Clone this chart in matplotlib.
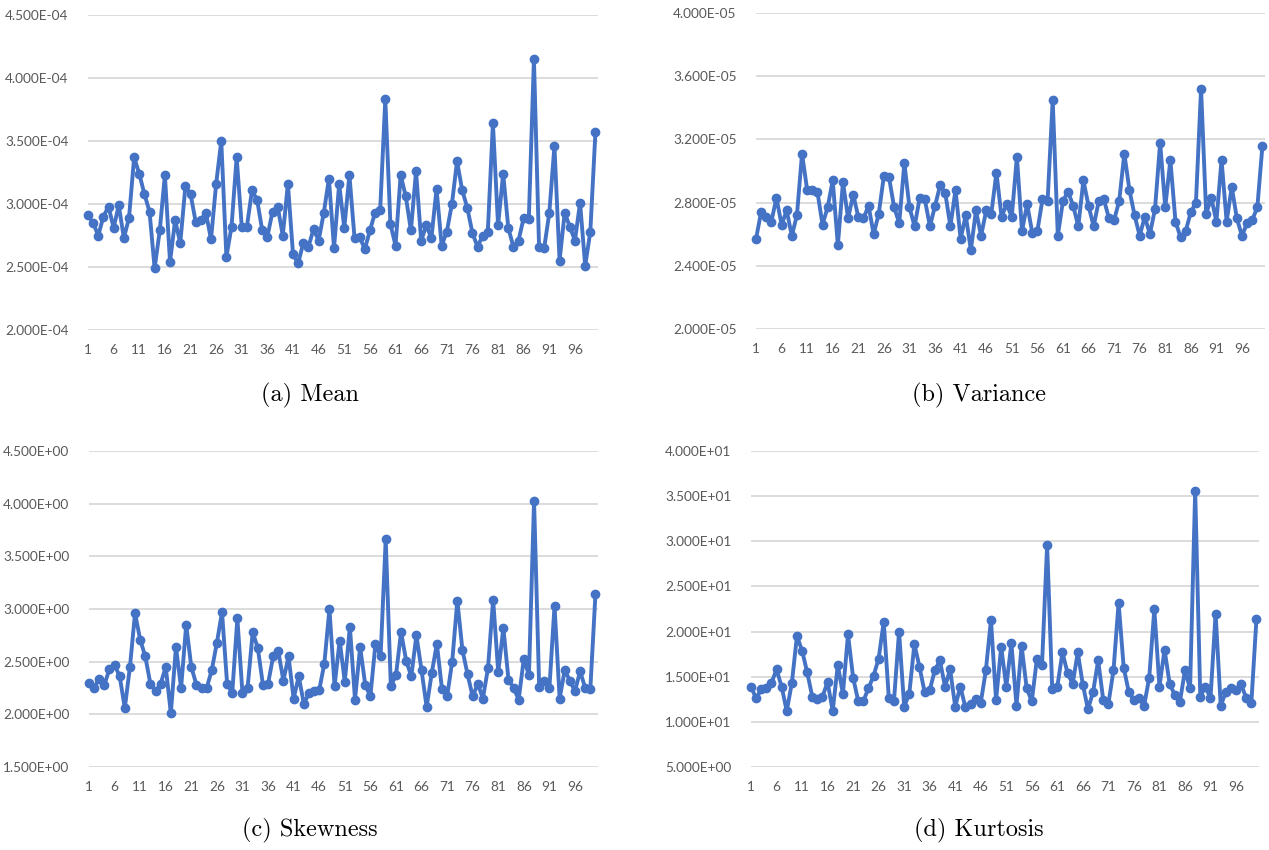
import numpy as np
import matplotlib
matplotlib.use("Agg")
import matplotlib.pyplot as plt
from matplotlib.ticker import FuncFormatter, FixedLocator

mean_vals = [2.91, 2.85, 2.75, 2.90, 2.98, 2.81, 2.99, 2.73, 2.89, 3.37,
             3.24, 3.08, 2.94, 2.49, 2.79, 3.23, 2.54, 2.87, 2.69, 3.14,
             3.08, 2.86, 2.87, 2.93, 2.72, 3.16, 3.50, 2.58, 2.82, 3.37,
             2.82, 2.82, 3.11, 3.03, 2.79, 2.74, 2.94, 2.98, 2.75, 3.16,
             2.60, 2.53, 2.69, 2.66, 2.80, 2.71, 2.93, 3.20, 2.65, 3.16,
             2.81, 3.23, 2.73, 2.74, 2.64, 2.79, 2.93, 2.95, 3.83, 2.84,
             2.67, 3.23, 3.06, 2.79, 3.26, 2.71, 2.83, 2.73, 3.12, 2.67,
             2.78, 3.00, 3.34, 3.11, 2.97, 2.77, 2.66, 2.75, 2.78, 3.64,
             2.83, 3.24, 2.81, 2.66, 2.71, 2.89, 2.88, 4.15, 2.66, 2.65,
             2.93, 3.46, 2.55, 2.93, 2.82, 2.71, 3.01, 2.51, 2.78, 3.57]  # x 1e-4

var_vals = [2.57, 2.74, 2.71, 2.68, 2.83, 2.66, 2.75, 2.59, 2.72, 3.11,
            2.88, 2.88, 2.87, 2.66, 2.77, 2.94, 2.53, 2.93, 2.70, 2.85,
            2.71, 2.70, 2.78, 2.60, 2.73, 2.97, 2.96, 2.77, 2.67, 3.05,
            2.77, 2.65, 2.83, 2.82, 2.65, 2.78, 2.91, 2.86, 2.65, 2.88,
            2.57, 2.72, 2.50, 2.75, 2.59, 2.75, 2.73, 2.99, 2.71, 2.79,
            2.71, 3.09, 2.62, 2.79, 2.61, 2.62, 2.82, 2.81, 3.45, 2.59,
            2.81, 2.87, 2.78, 2.65, 2.94, 2.78, 2.65, 2.81, 2.82, 2.70,
            2.69, 2.81, 3.11, 2.88, 2.72, 2.59, 2.71, 2.60, 2.76, 3.18,
            2.77, 3.07, 2.68, 2.58, 2.62, 2.74, 2.80, 3.52, 2.73, 2.83,
            2.68, 3.07, 2.68, 2.90, 2.70, 2.59, 2.67, 2.69, 2.77, 3.16]  # x 1e-5

skew_vals = [2.30, 2.25, 2.34, 2.28, 2.43, 2.47, 2.36, 2.06, 2.45, 2.96,
             2.71, 2.55, 2.29, 2.22, 2.29, 2.45, 2.01, 2.64, 2.25, 2.85,
             2.45, 2.28, 2.25, 2.25, 2.42, 2.68, 2.97, 2.29, 2.20, 2.91,
             2.20, 2.25, 2.78, 2.63, 2.28, 2.29, 2.55, 2.60, 2.32, 2.55,
             2.15, 2.36, 2.10, 2.20, 2.22, 2.23, 2.48, 3.00, 2.27, 2.70,
             2.31, 2.83, 2.14, 2.64, 2.28, 2.17, 2.67, 2.55, 3.66, 2.27,
             2.37, 2.78, 2.51, 2.36, 2.75, 2.42, 2.07, 2.39, 2.67, 2.24,
             2.17, 2.50, 3.08, 2.61, 2.38, 2.17, 2.29, 2.15, 2.44, 3.09,
             2.40, 2.82, 2.33, 2.25, 2.14, 2.53, 2.37, 4.03, 2.26, 2.32,
             2.25, 3.03, 2.15, 2.42, 2.32, 2.22, 2.41, 2.25, 2.24, 3.14]

kurt_vals = [1.39, 1.26, 1.36, 1.38, 1.43, 1.58, 1.39, 1.12, 1.43, 1.95,
             1.79, 1.55, 1.28, 1.25, 1.28, 1.44, 1.12, 1.63, 1.31, 1.97,
             1.49, 1.23, 1.23, 1.37, 1.51, 1.70, 2.11, 1.26, 1.23, 2.00,
             1.17, 1.31, 1.86, 1.61, 1.33, 1.35, 1.57, 1.68, 1.39, 1.58,
             1.17, 1.39, 1.16, 1.20, 1.25, 1.21, 1.57, 2.13, 1.24, 1.83,
             1.39, 1.87, 1.18, 1.84, 1.37, 1.23, 1.70, 1.63, 2.96, 1.36,
             1.39, 1.77, 1.54, 1.42, 1.77, 1.41, 1.14, 1.33, 1.68, 1.24,
             1.20, 1.57, 2.32, 1.60, 1.33, 1.24, 1.26, 1.18, 1.49, 2.25,
             1.39, 1.80, 1.42, 1.30, 1.22, 1.57, 1.37, 3.56, 1.28, 1.39,
             1.26, 2.20, 1.18, 1.33, 1.37, 1.35, 1.42, 1.26, 1.21, 2.14]  # x 1e1

x_ticks = list(range(1, 100, 5))
captions = ["(a) Mean", "(b) Variance", "(c) Skewness", "(d) Kurtosis"]

fig = plt.figure(figsize=(12.69, 8.5), dpi=100)

# cada panel: datos, escala, limites y, pasos y, posicion en pixeles (izq, der, arriba, abajo)
panels = [
    (np.array(mean_vals) * 1e-4, 2.0e-4, 4.5e-4, 0.5e-4, (88, 598, 15, 330)),
    (np.array(var_vals) * 1e-5, 2.0e-5, 4.0e-5, 0.4e-5, (756, 1265, 13, 329)),
    (np.array(skew_vals), 1.5, 4.5, 0.5, (89, 598, 451, 767)),
    (np.array(kurt_vals) * 10, 5.0, 40.0, 5.0, (751, 1259, 451, 767)),
]

W, H = 1269, 850
blue = "#4472C4"
grey_text = "#595959"

for i, (vals, y0, y1, step, (l, r, t, b)) in enumerate(panels):
    ax = fig.add_axes([l / W, 1 - b / H, (r - l) / W, (b - t) / H])
    x = np.arange(1, len(vals) + 1)
    ax.plot(x, vals, color=blue, linewidth=2.8, marker="o", markersize=6,
            zorder=3, clip_on=False)

    ax.set_ylim(y0, y1)
    ax.set_xlim(1, 100.5)
    ax.yaxis.set_major_locator(FixedLocator(np.arange(y0, y1 + step / 2, step)))
    ax.yaxis.set_major_formatter(FuncFormatter(lambda v, p: f"{v:.3E}"))
    ax.set_xticks(x_ticks)
    ax.grid(axis="y", color="#d9d9d9", linewidth=1.3)
    ax.set_axisbelow(True)

    for s in ax.spines.values():
        s.set_visible(False)
    ax.tick_params(length=0, labelsize=9.8, labelcolor=grey_text)
    ax.tick_params(axis="y", pad=14)
    ax.tick_params(axis="x", pad=10)
    for lab in ax.get_xticklabels() + ax.get_yticklabels():
        lab.set_fontfamily("Lato")

    # subtitulo debajo de cada grafica
    cx = 310 if i % 2 == 0 else 979
    cy = 395 if i < 2 else 830
    fig.text(cx / W, 1 - cy / H, captions[i], ha="center", va="center",
             fontsize=17.5, fontfamily="cmr10")

plt.savefig("out.png", dpi=100)
